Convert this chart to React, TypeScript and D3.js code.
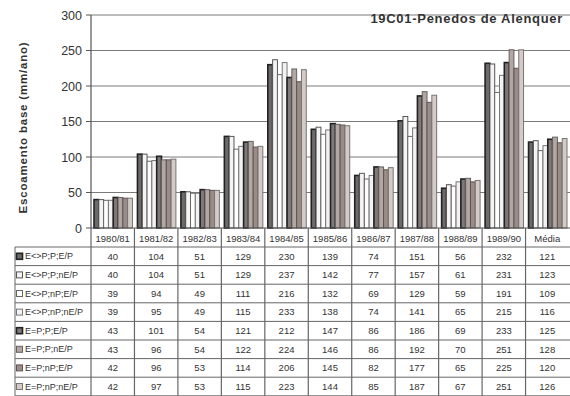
import React from "react";
import * as d3 from "d3";

const categories = ["1980/81", "1981/82", "1982/83", "1983/84", "1984/85", "1985/86", "1986/87", "1987/88", "1988/89", "1989/90", "Média"];

const seriesNames = ["E<>P;P;E/P", "E<>P;P;nE/P", "E<>P;nP;E/P", "E<>P;nP;nE/P", "E=P;P;E/P", "E=P;P;nE/P", "E=P;nP;E/P", "E=P;nP;nE/P"];

const s1 = [40, 104, 51, 129, 230, 139, 74, 151, 56, 232, 121];
const s2 = [40, 104, 51, 129, 237, 142, 77, 157, 61, 231, 123];
const s3 = [39, 94, 49, 111, 216, 132, 69, 129, 59, 191, 109];
const s4 = [39, 95, 49, 115, 233, 138, 74, 141, 65, 215, 116];
const s5 = [43, 101, 54, 121, 212, 147, 86, 186, 69, 233, 125];
const s6 = [43, 96, 54, 122, 224, 146, 86, 192, 70, 251, 128];
const s7 = [42, 96, 53, 114, 206, 145, 82, 177, 65, 225, 120];
const s8 = [42, 97, 53, 115, 223, 144, 85, 187, 67, 251, 126];
const seriesValues = [s1, s2, s3, s4, s5, s6, s7, s8];

const yTicks = [0, 50, 100, 150, 200, 250, 300];

const fills = ["#6e6a6a", "#f4f4f4", "#ffffff", "#f2f2f2", "#7e7878", "#b2a7a3", "#9a8c88", "#d2cbc8"];
const strokes = ["#222222", "#555555", "#666666", "#777777", "#222222", "#666060", "#5e5552", "#7a7370"];
const strokeWidths = [1.6, 1, 1, 1, 1.6, 1, 1, 1];

const W = 570;
const H = 396;
const left = 91;
const right = 569;
const top = 15;
const bottom = 228;
const tableLeft = 15;
const headerBottom = 247;
const rowH = 18.6;

export default function App() {
  const x = d3.scaleBand<string>().domain(categories).range([left, right]).padding(0);
  const xi = d3
    .scaleBand<string>()
    .domain(seriesNames)
    .range([3, x.bandwidth() - 2])
    .padding(0);
  const y = d3.scaleLinear().domain([0, 300]).range([bottom, top]);
  const font = "'Liberation Sans', Arial, sans-serif";
  const tableBottom = headerBottom + rowH * seriesNames.length;

  return (
    <svg
      width={W}
      height={H}
      style={{ position: "absolute", left: 0, top: 0, background: "#fff" }}
      fontFamily={font}
    >
      {/* gridlines */}
      {yTicks.filter((t) => t > 0).map((t) => (
        <line key={t} x1={left} x2={W} y1={y(t)} y2={y(t)} stroke="#7a7a7a" strokeWidth={1} />
      ))}

      {/* title */}
      <text
        x={563}
        y={23}
        textAnchor="end"
        fontSize={13}
        fontWeight="bold"
        fill="#333"
        letterSpacing={0.7}
      >
        19C01-Penedos de Alenquer
      </text>

      {/* bars */}
      {categories.map((c, ci) => (
        <g key={c} transform={`translate(${x(c)},0)`}>
          {seriesNames.map((s, si) => {
            const v = seriesValues[si][ci];
            const bx = xi(s)!;
            return (
              <rect
                key={s}
                x={bx}
                y={y(v)}
                width={xi.bandwidth()}
                height={y(0) - y(v)}
                fill={fills[si]}
                stroke={strokes[si]}
                strokeWidth={strokeWidths[si]}
              />
            );
          })}
        </g>
      ))}

      {/* y axis */}
      <line x1={left} x2={left} y1={top} y2={bottom} stroke="#555" strokeWidth={1.2} />
      {yTicks.map((t) => (
        <g key={t}>
          <line x1={left - 5} x2={left} y1={y(t)} y2={y(t)} stroke="#555" />
          <text x={82} y={y(t)} dy="0.36em" textAnchor="end" fontSize={12.5} fill="#333">
            {t}
          </text>
        </g>
      ))}
      <text
        transform={`translate(27,${(top + bottom) / 2 + 6}) rotate(-90)`}
        textAnchor="middle"
        fontSize={11.5}
        fontWeight="bold"
        fill="#333"
        letterSpacing={0.8}
      >
        Escoamento base (mm/ano)
      </text>

      {/* data table */}
      <g>
        {/* horizontal rules */}
        {d3.range(seriesNames.length + 1).map((i) => (
          <line
            key={i}
            x1={tableLeft}
            x2={W}
            y1={headerBottom + i * rowH}
            y2={headerBottom + i * rowH}
            stroke="#666"
            strokeWidth={1}
          />
        ))}
        <line x1={left} x2={W} y1={bottom} y2={bottom} stroke="#555" strokeWidth={1.2} />
        {/* vertical rules */}
        <line x1={tableLeft} x2={tableLeft} y1={headerBottom} y2={tableBottom} stroke="#666" />
        {categories.map((c) => (
          <line
            key={c}
            x1={x(c)!}
            x2={x(c)!}
            y1={bottom}
            y2={tableBottom}
            stroke="#666"
            strokeWidth={1.2}
          />
        ))}
        {/* header */}
        {categories.map((c) => (
          <text
            key={c}
            x={x(c)! + x.bandwidth() / 2}
            y={(bottom + headerBottom) / 2 + 1}
            dy="0.35em"
            textAnchor="middle"
            fontSize={9.5}
            fill="#333"
          >
            {c}
          </text>
        ))}
        {/* rows */}
        {seriesNames.map((s, si) => {
          const cy = headerBottom + si * rowH + rowH / 2;
          return (
            <g key={s}>
              <rect
                x={16.5}
                y={cy - 3}
                width={6}
                height={6}
                fill={fills[si]}
                stroke={strokes[si]}
                strokeWidth={strokeWidths[si]}
              />
              <text x={25} y={cy} dy="0.35em" fontSize={9} fill="#333">
                {s}
              </text>
              {categories.map((c, ci) => (
                <text
                  key={c}
                  x={x(c)! + x.bandwidth() / 2}
                  y={cy}
                  dy="0.35em"
                  textAnchor="middle"
                  fontSize={9.5}
                  fill="#333"
                >
                  {seriesValues[si][ci]}
                </text>
              ))}
            </g>
          );
        })}
      </g>
    </svg>
  );
}
